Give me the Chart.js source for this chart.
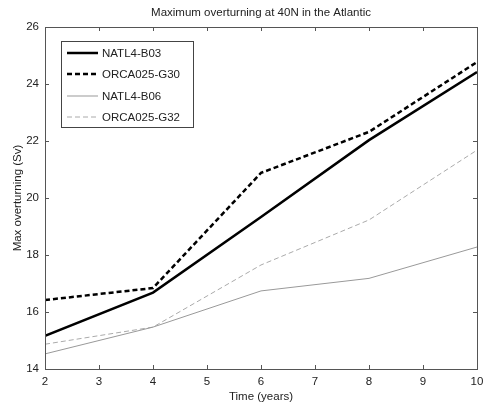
<!DOCTYPE html>
<html>
<head>
<meta charset="utf-8">
<script src="https://cdn.jsdelivr.net/npm/chart.js@4/dist/chart.umd.min.js"></script>
<style>
  html, body { margin: 0; padding: 0; background: #fff; }
  #wrap { width: 483px; height: 407px; }
</style>
</head>
<body>
<div id="wrap"><canvas id="chart"></canvas></div>
<script>
// Data
const years = [2, 4, 6, 8, 10];
const natl4B03 = [15.16, 16.68, 19.33, 22.03, 24.42];
const orca025G30 = [16.42, 16.84, 20.88, 22.32, 24.77];
const natl4B06 = [14.53, 15.47, 16.74, 17.18, 18.28];
const orca025G32 = [14.87, 15.47, 17.65, 19.23, 21.68];

const xTicks = [2, 3, 4, 5, 6, 7, 8, 9, 10];
const yTicks = [14, 16, 18, 20, 22, 24, 26];

const titleText = 'Maximum overturning at 40N in the Atlantic';
const fontFamily = '"Liberation Sans", Arial, Helvetica, sans-serif';
const fontSize = 11.5;

function toPoints(values) {
    return years.map((x, i) => ({ x: x, y: values[i] }));
}

// Box around the axes, inward ticks on all sides, title and legend (MATLAB look)
const matlabFrame = {
    id: 'matlabFrame',
    afterDraw(chart) {
        const ctx = chart.ctx;
        const area = chart.chartArea;
        const xs = chart.scales.x;
        const ys = chart.scales.y;
        const tick = 4;

        ctx.save();
        ctx.strokeStyle = '#555';
        ctx.lineWidth = 1;
        ctx.strokeRect(area.left + 0.5, area.top + 0.5, area.right - area.left, area.bottom - area.top);

        ctx.beginPath();
        xTicks.forEach(v => {
            const px = Math.round(xs.getPixelForValue(v)) + 0.5;
            ctx.moveTo(px, area.bottom);
            ctx.lineTo(px, area.bottom - tick);
            ctx.moveTo(px, area.top);
            ctx.lineTo(px, area.top + tick);
        });
        yTicks.forEach(v => {
            const py = Math.round(ys.getPixelForValue(v)) + 0.5;
            ctx.moveTo(area.left, py);
            ctx.lineTo(area.left + tick, py);
            ctx.moveTo(area.right, py);
            ctx.lineTo(area.right - tick, py);
        });
        ctx.stroke();

        // title, centred over the plot area
        ctx.fillStyle = '#222';
        ctx.font = fontSize + 'px ' + fontFamily;
        ctx.textAlign = 'center';
        ctx.textBaseline = 'middle';
        ctx.fillText(titleText, (area.left + area.right) / 2, 13);

        // legend box in the upper left corner
        const box = { left: 61, top: 41, width: 132, height: 86 };
        ctx.fillStyle = '#fff';
        ctx.fillRect(box.left, box.top, box.width, box.height);
        ctx.strokeStyle = '#444';
        ctx.lineWidth = 1;
        ctx.strokeRect(box.left + 0.5, box.top + 0.5, box.width, box.height);

        const rowY = [53, 74, 96, 117];
        chart.data.datasets.forEach((ds, i) => {
            const y = rowY[i];
            ctx.beginPath();
            ctx.strokeStyle = ds.borderColor;
            ctx.lineWidth = ds.borderWidth;
            ctx.setLineDash(ds.borderDash || []);
            ctx.moveTo(67, y);
            ctx.lineTo(98, y);
            ctx.stroke();
            ctx.setLineDash([]);
            ctx.fillStyle = '#222';
            ctx.textAlign = 'left';
            ctx.fillText(ds.label, 102, y + 1);
        });
        ctx.restore();
    }
};

new Chart(document.getElementById('chart'), {
    type: 'line',
    data: {
        datasets: [
            {
                label: 'NATL4-B03',
                data: toPoints(natl4B03),
                borderColor: '#000',
                borderWidth: 2.5
            },
            {
                label: 'ORCA025-G30',
                data: toPoints(orca025G30),
                borderColor: '#000',
                borderWidth: 2.5,
                borderDash: [5, 3]
            },
            {
                label: 'NATL4-B06',
                data: toPoints(natl4B06),
                borderColor: '#999',
                borderWidth: 1
            },
            {
                label: 'ORCA025-G32',
                data: toPoints(orca025G32),
                borderColor: '#aaa',
                borderWidth: 1,
                borderDash: [5, 3]
            }
        ]
    },
    options: {
        responsive: true,
        maintainAspectRatio: false,
        animation: false,
        layout: { padding: { top: 27, right: 6, left: 0, bottom: 0 } },
        elements: {
            point: { radius: 0, hoverRadius: 0 },
            line: { tension: 0, fill: false }
        },
        plugins: {
            legend: { display: false },
            title: { display: false },
            tooltip: { enabled: false }
        },
        scales: {
            x: {
                type: 'linear',
                min: 2,
                max: 10,
                afterBuildTicks: scale => { scale.ticks = xTicks.map(v => ({ value: v })); },
                afterFit: scale => {
                    scale.height = 38;
                    scale.paddingLeft = 0;
                    scale.paddingRight = 0;
                },
                grid: { display: false, drawTicks: false, tickLength: 0 },
                border: { display: false },
                ticks: {
                    color: '#222',
                    padding: 6,
                    maxRotation: 0,
                    font: { family: fontFamily, size: fontSize }
                },
                title: {
                    display: true,
                    text: 'Time (years)',
                    color: '#222',
                    padding: { top: 0, bottom: 3 },
                    font: { family: fontFamily, size: fontSize }
                }
            },
            y: {
                min: 14,
                max: 26,
                afterBuildTicks: scale => { scale.ticks = yTicks.map(v => ({ value: v })); },
                afterFit: scale => { scale.width = 45; },
                grid: { display: false, drawTicks: false, tickLength: 0 },
                border: { display: false },
                ticks: {
                    color: '#222',
                    padding: 6,
                    font: { family: fontFamily, size: fontSize }
                },
                title: {
                    display: true,
                    text: 'Max overturning (Sv)',
                    color: '#222',
                    padding: { top: 11, bottom: 0 },
                    font: { family: fontFamily, size: fontSize }
                }
            }
        }
    },
    plugins: [matlabFrame]
});
</script>
</body>
</html>
